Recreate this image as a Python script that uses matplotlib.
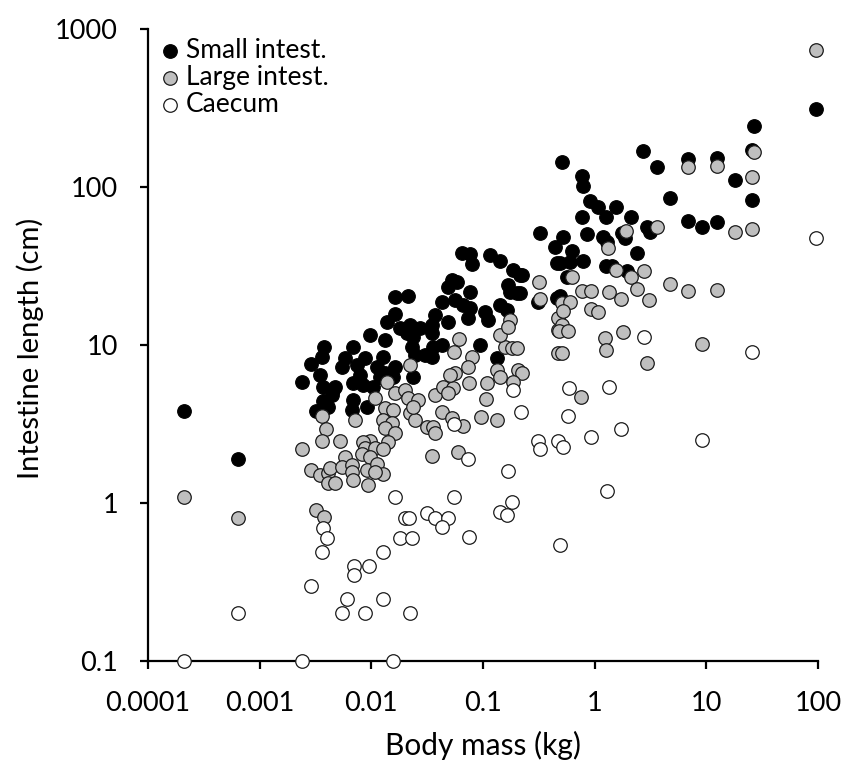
import matplotlib
matplotlib.use('Agg')
import matplotlib.pyplot as plt
from matplotlib.ticker import FixedLocator, FixedFormatter, NullLocator

plt.rcParams['font.family'] = ['Lato', 'DejaVu Sans']

# ---------------- data (body mass kg, intestine length cm) ----------------
small_mass = [0.00021, 0.00064, 0.0024, 0.0029, 0.0035, 0.0036, 0.0038, 0.0037, 0.0045, 0.0037,
              0.0032, 0.0041, 0.0047, 0.0044, 0.0069, 0.0069, 0.0067, 0.0092, 0.0084, 0.0103,
              0.0119, 0.0156, 0.0055, 0.0074, 0.0058, 0.0088, 0.0069, 0.0079, 0.0132, 0.0236,
              0.0112, 0.0163, 0.0127, 0.0097, 0.0132, 0.0138, 0.0163, 0.0163, 0.0213, 0.0222,
              0.018, 0.0208, 0.0231, 0.0272, 0.0236, 0.0349, 0.0349, 0.0371, 0.0485, 0.0428,
              0.056, 0.066, 0.076, 0.076, 0.0527, 0.0584, 0.0485, 0.0648, 0.076, 0.0795,
              0.115, 0.142, 0.185, 0.214, 0.167, 0.201, 0.174, 0.142, 0.164, 0.104,
              0.111, 0.0734, 0.0428, 0.0356, 0.0246, 0.0302, 0.0349, 0.094, 0.133, 0.323,
              0.44, 0.459, 0.459, 0.31, 0.223, 0.214, 0.509, 2.7, 3.6, 6.83,
              0.768, 0.785, 0.907, 1.07, 1.55, 4.71, 0.768, 1.26, 2.11, 0.85,
              0.519, 0.625, 0.488, 0.60, 0.785, 1.18, 1.29, 1.75, 1.86, 2.93,
              3.12, 6.83, 2.39, 1.26, 1.43, 1.94, 0.488, 0.564, 12.4, 12.4,
              9.1, 18, 25.5, 26.6, 25.5, 95]
small_len = [3.8, 1.9, 5.8, 7.6, 6.5, 8.4, 9.7, 5.4, 5.2, 4.4,
             3.8, 4.05, 5.4, 4.8, 5.75, 4.5, 3.9, 4.05, 5.6, 5.4,
             6.3, 6.3, 7.25, 7.5, 8.3, 8.3, 9.7, 6.45, 6.65, 6.3,
             7.25, 7.25, 8.4, 11.6, 10.75, 14.0, 15.7, 20.1, 20.4, 13.4,
             12.8, 11.9, 9.7, 12.8, 11.2, 13.4, 11.9, 15.5, 14.0, 18.7,
             19.3, 17.9, 17.2, 21.7, 25.8, 25.0, 23.3, 38.2, 37.7, 32.6,
             37.1, 34.0, 29.8, 27.7, 24.0, 21.3, 21.7, 17.9, 16.6, 16.2,
             14.4, 14.8, 10.0, 9.7, 8.66, 8.66, 8.4, 10.0, 8.3, 51.2,
             41.8, 33.0, 19.8, 18.7, 27.7, 21.3, 144, 169, 134, 150,
             117, 101, 81, 75, 75, 85, 64.5, 64.5, 64.5, 50.5,
             48.2, 39.4, 33.0, 33.5, 34.0, 48.2, 44.9, 51.2, 47.6, 55.7,
             52, 61, 38.2, 31.6, 31.6, 29.4, 20.4, 26.9, 153, 60,
             55.7, 111, 172, 243, 83, 311]

large_mass = [0.00021, 0.00064, 0.0024, 0.0029, 0.0035, 0.0041, 0.0041, 0.0047, 0.0032, 0.0038,
              0.0036, 0.0039, 0.0036, 0.0052, 0.0071, 0.0138, 0.0163, 0.020, 0.0213, 0.0261,
              0.0108, 0.0132, 0.0156, 0.0127, 0.0153, 0.0222, 0.0246, 0.0132, 0.0163, 0.0141,
              0.0098, 0.0084, 0.0088, 0.0108, 0.0127, 0.0082, 0.0058, 0.0098, 0.0043, 0.0055,
              0.0067, 0.0092, 0.0112, 0.0127, 0.0108, 0.0067, 0.0069, 0.0093, 0.0222, 0.0371,
              0.0437, 0.0538, 0.0485, 0.075, 0.108, 0.106, 0.0236, 0.0428, 0.0527, 0.066,
              0.0315, 0.0356, 0.0371, 0.0958, 0.133, 0.0349, 0.0596, 0.056, 0.0506, 0.0795,
              0.0734, 0.133, 0.142, 0.205, 0.223, 0.185, 0.157, 0.181, 0.201, 0.142,
              0.174, 0.167, 0.061, 0.055, 0.316, 0.323, 0.468, 0.468, 0.468, 0.509,
              0.60, 0.519, 0.924, 1.07, 1.72, 3.06, 0.509, 0.478, 0.576, 1.23,
              1.26, 1.79, 0.509, 2.93, 0.753, 1.9, 3.6, 1.31, 1.55, 2.11,
              2.76, 0.625, 0.768, 0.924, 1.34, 2.39, 4.71, 6.83, 6.83, 12.4,
              12.4, 9.1, 18, 26.6, 25.5, 25.5, 95]
large_len = [1.09, 0.80, 2.2, 1.62, 1.5, 1.55, 1.34, 1.34, 0.90, 0.81,
             3.55, 2.94, 2.47, 2.47, 3.35, 5.8, 5.0, 5.2, 4.6, 4.5,
             4.6, 4.0, 3.9, 3.35, 3.2, 3.7, 3.35, 2.98, 2.77, 2.43,
             2.47, 2.43, 2.23, 2.23, 2.2, 2.04, 1.95, 1.95, 1.66, 1.69,
             1.74, 1.62, 1.77, 1.53, 1.57, 1.57, 1.4, 1.3, 7.5, 4.8,
             5.4, 5.35, 5.0, 5.75, 5.75, 4.55, 4.05, 3.76, 3.45, 3.07,
             3.03, 3.03, 2.77, 3.5, 3.35, 1.98, 2.1, 6.65, 6.45, 8.4,
             7.25, 6.95, 6.3, 6.95, 6.65, 5.8, 9.7, 9.55, 9.55, 11.6,
             14.4, 13.0, 10.9, 9.0, 25.0, 19.5, 14.8, 12.4, 8.9, 18.4,
             18.7, 16.4, 16.9, 16.2, 19.5, 19.3, 13.4, 12.3, 12.3, 11.1,
             9.3, 12.1, 8.9, 7.7, 4.7, 52.7, 55.7, 41.2, 29.8, 26.9,
             29.4, 26.9, 22.0, 22.0, 21.7, 22.6, 24.3, 22.0, 134, 136,
             22.3, 10.1, 52, 166, 116, 54, 736]

caecum_mass = [0.00021, 0.00064, 0.0024, 0.0156, 0.0029, 0.0037, 0.0040, 0.0036, 0.020, 0.0217,
               0.018, 0.0231, 0.0127, 0.0070, 0.0070, 0.0095, 0.0060, 0.0127, 0.0055, 0.0088,
               0.0222, 0.0163, 0.0315, 0.0371, 0.0485, 0.0428, 0.055, 0.075, 0.055, 0.0734,
               0.167, 0.181, 0.142, 0.164, 0.185, 0.218, 0.31, 0.323, 0.468, 0.519,
               0.488, 0.588, 1.34, 0.576, 1.72, 0.924, 1.29, 2.76, 9.1, 25.5,
               95]
caecum_len = [0.1, 0.2, 0.1, 0.1, 0.3, 0.69, 0.6, 0.49, 0.80, 0.80,
              0.6, 0.6, 0.49, 0.40, 0.35, 0.40, 0.247, 0.247, 0.2, 0.2,
              0.2, 1.09, 0.866, 0.80, 0.80, 0.70, 1.09, 0.61, 3.16, 1.9,
              1.6, 1.01, 0.88, 0.84, 5.2, 3.76, 2.47, 2.2, 2.47, 2.26,
              0.54, 5.35, 5.4, 3.55, 2.94, 2.6, 1.19, 11.2, 2.5, 9.0,
              47.6]

series_labels = ['Small intest.', 'Large intest.', 'Caecum']
xticks = [0.0001, 0.001, 0.01, 0.1, 1, 10, 100]
xticklabels = ['0.0001', '0.001', '0.01', '0.1', '1', '10', '100']
yticks = [0.1, 1, 10, 100, 1000]
yticklabels = ['0.1', '1', '10', '100', '1000']

# ---------------- figure ----------------
W, H = 841, 765
fig = plt.figure(figsize=(W / 100, H / 100), dpi=100)
ax = fig.add_axes([148 / W, 104 / H, 670 / W, 632 / H])

msize = 95
lw = 0.9
ax.scatter(small_mass, small_len, s=msize, c='black', edgecolors='black',
           linewidths=lw, clip_on=False, zorder=3, label=series_labels[0])
ax.scatter(large_mass, large_len, s=msize, c='#BFBFBF', edgecolors='#1a1a1a',
           linewidths=lw, clip_on=False, zorder=4, label=series_labels[1])
ax.scatter(caecum_mass, caecum_len, s=msize, c='white', edgecolors='#1a1a1a',
           linewidths=lw, clip_on=False, zorder=5, label=series_labels[2])

ax.set_xscale('log')
ax.set_yscale('log')
ax.set_xlim(xticks[0], xticks[-1])
ax.set_ylim(yticks[0], yticks[-1])

ax.xaxis.set_major_locator(FixedLocator(xticks))
ax.xaxis.set_major_formatter(FixedFormatter(xticklabels))
ax.yaxis.set_major_locator(FixedLocator(yticks))
ax.yaxis.set_major_formatter(FixedFormatter(yticklabels))
ax.xaxis.set_minor_locator(NullLocator())
ax.yaxis.set_minor_locator(NullLocator())

for side in ['top', 'right']:
    ax.spines[side].set_visible(False)
for side in ['left', 'bottom']:
    ax.spines[side].set_linewidth(1.6)
    ax.spines[side].set_color('black')

ax.tick_params(axis='both', which='major', direction='out', length=5.5, width=1.6,
               color='black', labelsize=19.5)
ax.tick_params(axis='x', pad=16)
ax.tick_params(axis='y', pad=16)

fig.text(483 / W, 1 - 745 / H, 'Body mass (kg)', ha='center', va='center', fontsize=21.5)
fig.text(30 / W, 1 - 348 / H, 'Intestine length (cm)', ha='center', va='center',
         rotation=90, fontsize=21)

leg = ax.legend(loc='upper left', bbox_to_anchor=(162 / W, 1 - 38 / H),
                bbox_transform=fig.transFigure, frameon=False, fontsize=19,
                handlelength=0.6, handletextpad=0.3, labelspacing=0.07,
                borderpad=0, borderaxespad=0, scatterpoints=1)

fig.savefig('out.png', dpi=100)
